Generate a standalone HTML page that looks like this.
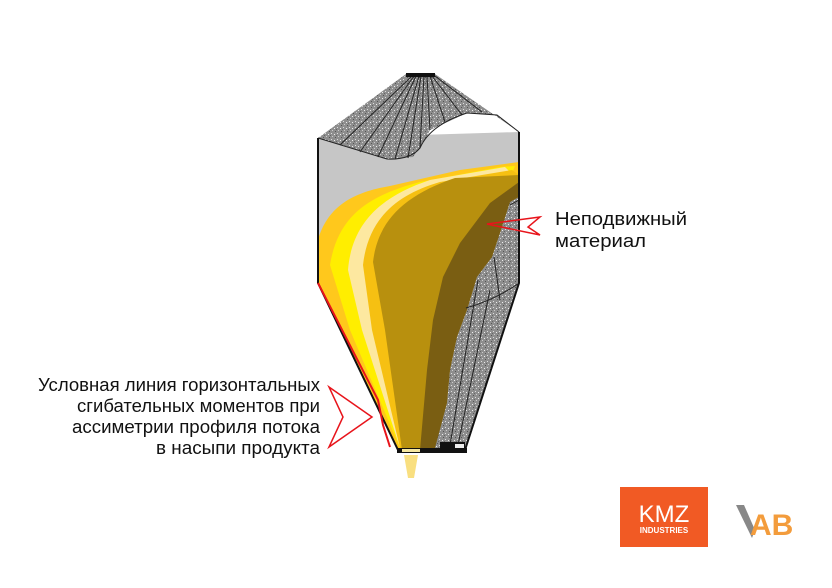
<!DOCTYPE html>
<html><head><meta charset="utf-8"><style>
body{margin:0;background:#fff;width:832px;height:583px;overflow:hidden;font-family:"Liberation Sans",sans-serif}
</style></head><body>
<svg width="832" height="583" viewBox="0 0 832 583" xmlns="http://www.w3.org/2000/svg">
<defs>
<pattern id="n" width="6" height="6" patternUnits="userSpaceOnUse">
<rect width="6" height="6" fill="#8e8e8e"/><rect x="1" y="1" width="1" height="1" fill="#ddd"/><rect x="4" y="2" width="1" height="1" fill="#eee"/><rect x="2" y="4" width="1" height="1" fill="#ccc"/><rect x="5" y="5" width="1" height="1" fill="#555"/><rect x="0" y="3" width="1" height="1" fill="#666"/>
</pattern>
</defs>
<polygon points="318,138 519,132 519,283 465,450 398,450 318,283" fill="#c6c6c6"/>
<polygon points="406,74 435,74 519,132 497,115 467,113 430,130 425,140 413,157 387,159 318,138" fill="url(#n)"/>
<g stroke="#222" stroke-width="1">
<line x1="412" y1="76" x2="340" y2="145"/><line x1="414" y1="76" x2="360" y2="152"/><line x1="416" y1="76" x2="378" y2="157"/><line x1="419" y1="76" x2="395" y2="159"/><line x1="421" y1="76" x2="408" y2="158"/><line x1="424" y1="76" x2="420" y2="148"/><line x1="427" y1="76" x2="430" y2="130"/><line x1="430" y1="76" x2="445" y2="122"/><line x1="432" y1="76" x2="462" y2="115"/><line x1="435" y1="76" x2="482" y2="112"/>
</g>
<rect x="406" y="73" width="29" height="4" fill="#111"/>
<path d="M318,138 L387,159 Q410,160 420,148 Q430,125 467,113 L497,115 L519,132" fill="none" stroke="#222"/>
<path d="M318,240 C328,205 355,192 390,186 L460,170 L519,162 L519,197 L510,202 L502,227 L492,257 L477,277 L467,310 L457,337 L450,370 L447,403 L435,450 L398,450 L318,283 Z" fill="#ffc81c"/>
<path d="M330,265 C338,215 370,195 420,182 L500,167 L515,166 L505,190 L480,260 L455,330 L440,400 L425,448 L400,448 L350,330 Z" fill="#ffee00"/>
<path d="M348,270 C352,220 385,195 430,180 L505,167 L510,172 L480,260 L455,330 L440,400 L425,448 L400,448 L362,330 Z" fill="#fde8a0"/>
<path d="M363,265 C368,220 395,195 440,182 L512,170 L519,175 L480,260 L455,330 L440,400 L425,448 L400,448 L372,330 Z" fill="#f6c012"/>
<path d="M373,262 C378,220 405,195 455,178 L519,175 L519,197 L510,202 L502,227 L492,257 L477,277 L467,310 L457,337 L450,370 L447,403 L435,450 L402,450 L385,330 Z" fill="#b8900e"/>
<path d="M519,182 L490,203 L460,243 L443,277 L433,320 L427,370 L420,450 L435,450 L447,403 L450,370 L457,337 L467,310 L477,277 L492,257 L502,227 L510,202 L519,197 Z" fill="#7a5e12"/>
<polygon points="510,202 519,197 519,283 465,448 435,448 447,403 450,370 457,337 467,310 477,277 492,257 502,227" fill="url(#n)"/>
<g stroke="#222" fill="none">
<path d="M466,308 Q495,300 519,283"/><line x1="494" y1="257" x2="500" y2="300"/><line x1="478" y1="280" x2="450" y2="445"/><line x1="490" y1="290" x2="458" y2="445"/><line x1="510" y1="205" x2="519" y2="200"/>
</g>
<path d="M318,138 L318,283 L398,450 M519,132 L519,283 L465,450" fill="none" stroke="#111" stroke-width="2"/>
<rect x="397" y="448" width="70" height="5" fill="#111"/><rect x="402" y="449" width="18" height="3" fill="#f6e7a0"/>
<rect x="440" y="442" width="25" height="8" fill="#111"/><rect x="455" y="444" width="9" height="4" fill="#eee"/>
<path d="M404,455 L418,455 L414,478 L408,478 Z" fill="#f6d24a" opacity=".7"/>
<path d="M318,283 L378,400 L383,425 L390,447" fill="none" stroke="#e8141b" stroke-width="2"/>
<polygon points="329,387 372,417 329,447 343,417" fill="none" stroke="#e8141b" stroke-width="1.5"/>
<polygon points="487,224 540,217 528,227 540,235" fill="none" stroke="#e8141b" stroke-width="1.5"/>
<g font-family="Liberation Sans, sans-serif" font-size="18" fill="#111">
<text x="555" y="225" textLength="132" lengthAdjust="spacingAndGlyphs">Неподвижный</text>
<text x="555" y="247" textLength="91" lengthAdjust="spacingAndGlyphs">материал</text>
<text x="38" y="391" textLength="282" lengthAdjust="spacingAndGlyphs">Условная линия горизонтальных</text>
<text x="77" y="412" textLength="243" lengthAdjust="spacingAndGlyphs">сгибательных моментов при</text>
<text x="72" y="433" textLength="248" lengthAdjust="spacingAndGlyphs">ассиметрии профиля потока</text>
<text x="156" y="454" textLength="164" lengthAdjust="spacingAndGlyphs">в насыпи продукта</text>
</g>
<rect x="620" y="487" width="88" height="60" fill="#f15a24"/>
<text x="664" y="522" text-anchor="middle" font-size="24" fill="#fff" font-family="Liberation Sans, sans-serif">KMZ</text>
<text x="664" y="533" text-anchor="middle" font-size="8" font-weight="bold" fill="#fff" font-family="Liberation Sans, sans-serif">INDUSTRIES</text>
<path d="M736,505 L744,505 L755,530 L752,538 Z" fill="#888"/>
<text x="750" y="535" font-size="30" font-weight="bold" fill="#f39c3c" font-family="Liberation Sans, sans-serif">AB</text>
</svg>
</body></html>
